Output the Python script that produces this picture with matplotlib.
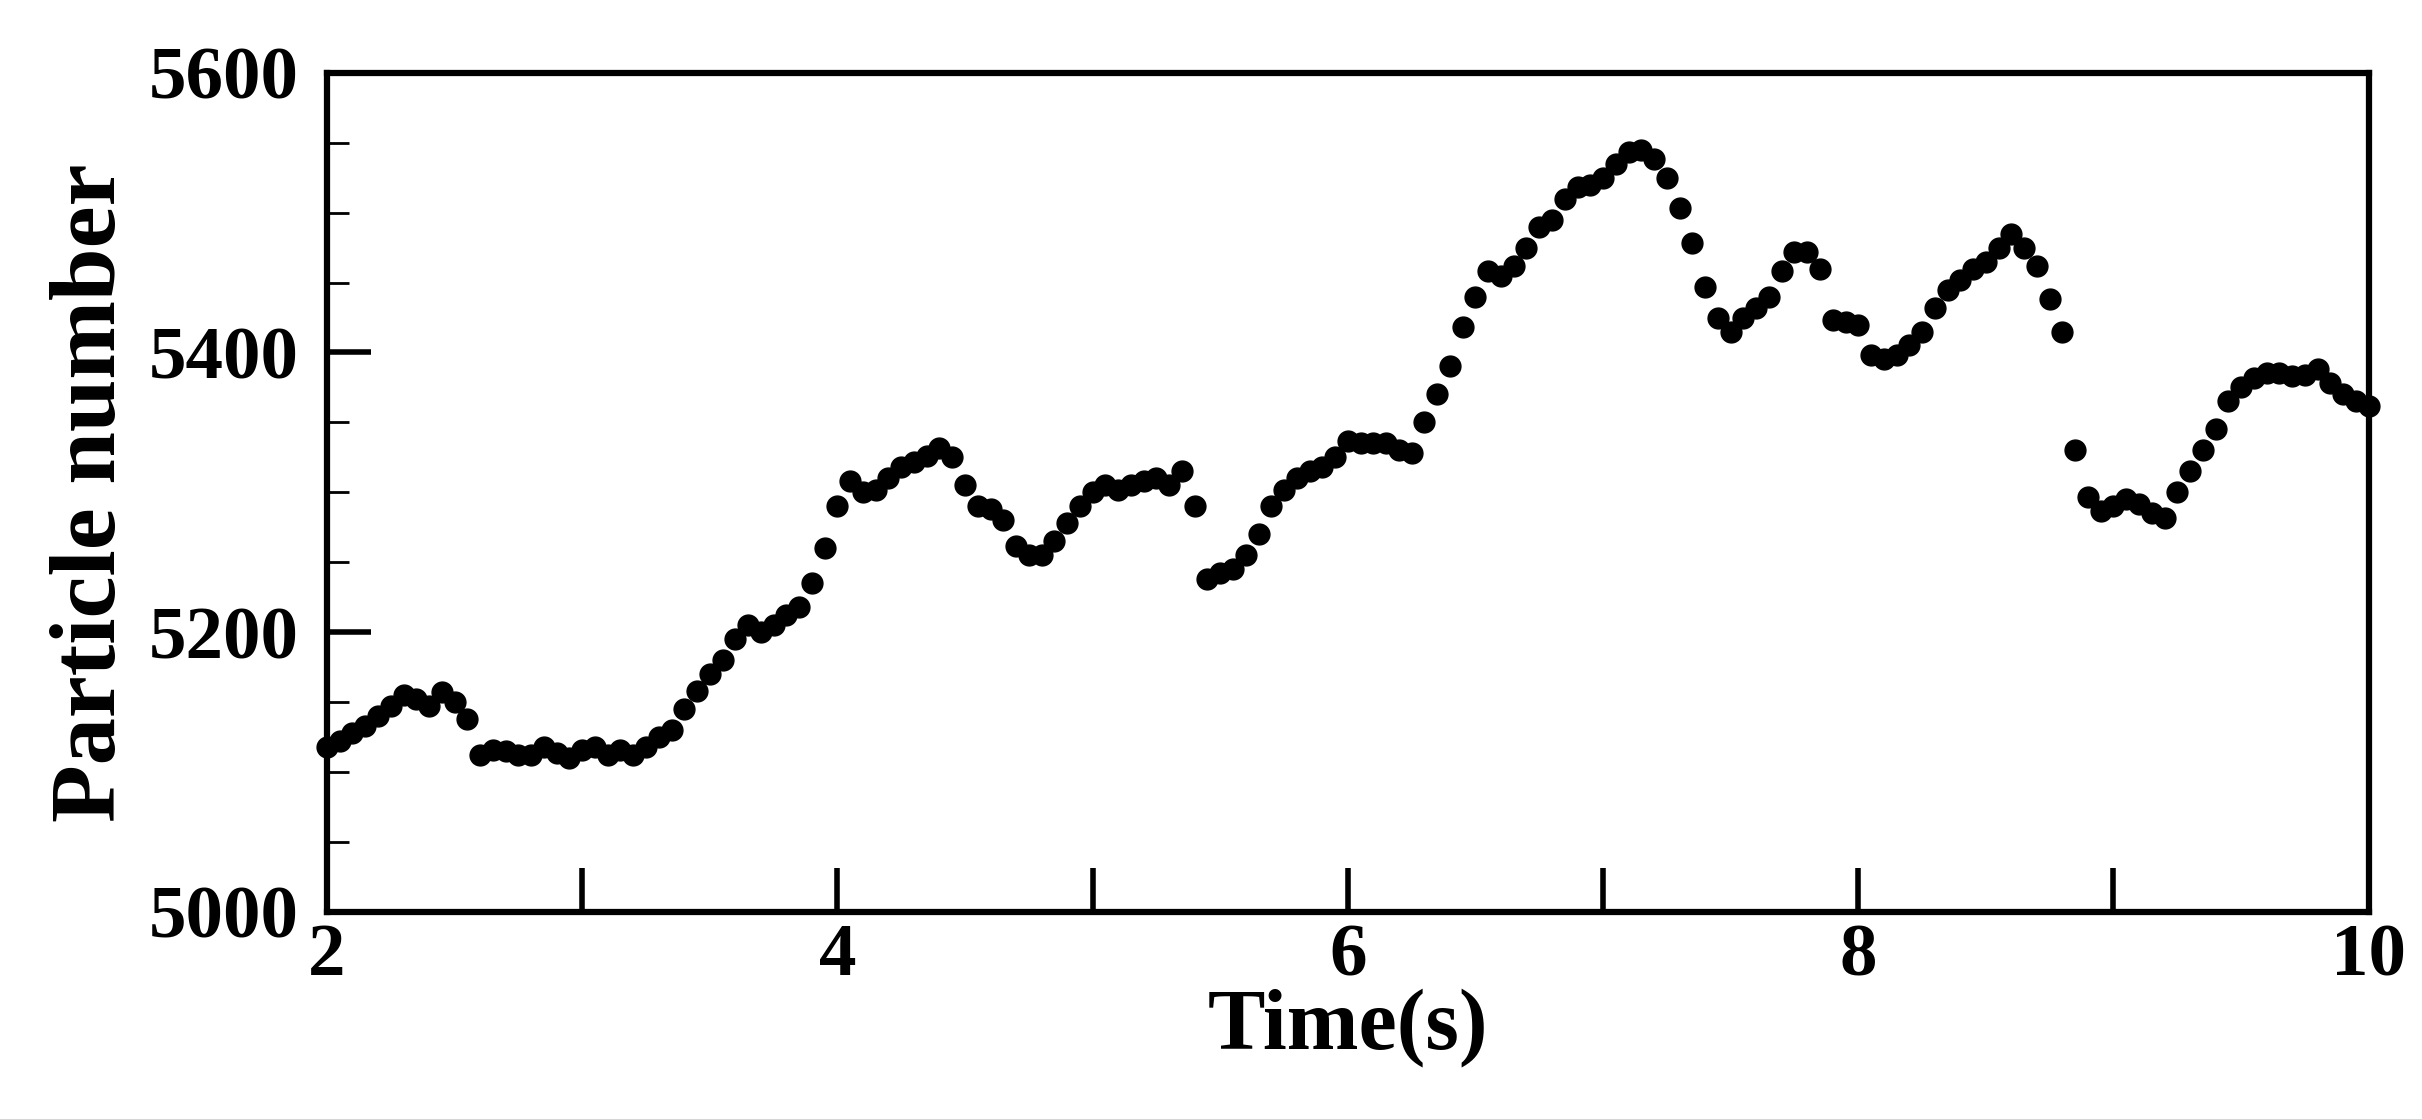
import numpy as np
import matplotlib.pyplot as plt
from matplotlib.ticker import MultipleLocator
plt.rcParams["font.family"] = "Liberation Serif"
plt.rcParams["font.weight"] = "bold"

# time step 0.05 s from 2 to 10
time = np.round(np.arange(2.0, 10.0001, 0.05), 2)
particles = [
    5118, 5122, 5128, 5133, 5140, 5147, 5155, 5152, 5147, 5157,
    5150, 5138, 5112, 5116, 5115, 5112, 5112, 5118, 5114, 5110,
    5116, 5118, 5112, 5116, 5112, 5118, 5125, 5130, 5145, 5158,
    5170, 5180, 5195, 5205, 5200, 5205, 5212, 5218, 5235, 5260,
    5290, 5308, 5300, 5302, 5310, 5318, 5322, 5326, 5332, 5325,
    5305, 5290, 5288, 5280, 5262, 5255, 5255, 5265, 5278, 5290,
    5300, 5305, 5302, 5305, 5308, 5310, 5305, 5315, 5290, 5238,
    5242, 5245, 5255, 5270, 5290, 5302, 5310, 5315, 5318, 5325,
    5337, 5335, 5335, 5335, 5330, 5328, 5350, 5370, 5390, 5418,
    5440, 5458, 5455, 5462, 5475, 5490, 5495, 5510, 5518, 5520,
    5525, 5535, 5543, 5545, 5538, 5525, 5503, 5478, 5447, 5425,
    5415, 5425, 5432, 5440, 5458, 5472, 5472, 5460, 5423, 5422,
    5420, 5398, 5395, 5398, 5405, 5415, 5432, 5445, 5452, 5460,
    5465, 5475, 5485, 5475, 5462, 5438, 5415, 5330, 5297, 5287,
    5290, 5295, 5292, 5285, 5282, 5300, 5315, 5330, 5345, 5365,
    5375, 5382, 5385, 5385, 5383, 5384, 5388, 5378, 5370, 5365,
    5362,
]

fig = plt.figure(figsize=(24.22, 11.19), dpi=100)
ax = fig.add_axes([0.135, 0.185, 0.843, 0.75])
ax.plot(time, particles, 'o', color='black', markersize=15, clip_on=False)

ax.set_xlim(2, 10)
ax.set_ylim(5000, 5600)
ax.xaxis.set_major_locator(MultipleLocator(2))
ax.xaxis.set_minor_locator(MultipleLocator(1))
ax.yaxis.set_major_locator(MultipleLocator(200))
ax.yaxis.set_minor_locator(MultipleLocator(50))
ax.tick_params(which='both', direction='in', width=4, top=False, right=False)
ax.tick_params(axis='x', which='both', length=32, labelsize=54, pad=8)
ax.tick_params(axis='y', which='major', length=32, labelsize=54, pad=20)
ax.tick_params(axis='y', which='minor', length=16, width=2)
for s in ax.spines.values():
    s.set_linewidth(4.5)

ax.set_xlabel('Time(s)', fontsize=62, fontweight='bold', labelpad=-2)
ax.set_ylabel('Particle number', fontsize=68, fontweight='bold', labelpad=10)

plt.savefig('out.png', dpi=100)
